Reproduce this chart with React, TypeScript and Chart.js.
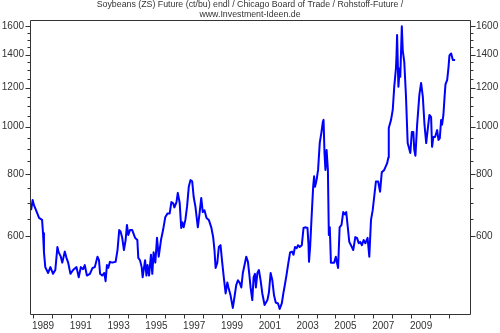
import React, { useEffect, useRef } from "react";
import { Chart, registerables } from "chart.js";

Chart.register(...registerables);

const titleLines = [
  "Soybeans (ZS) Future (ct/bu) endl / Chicago Board of Trade / Rohstoff-Future /",
  "www.Investment-Ideen.de",
];

const years = [
  1988.9, 1988.98, 1989.05, 1989.16, 1989.32, 1989.48, 1989.53, 1989.58, 1989.65, 1989.8, 1989.92,
  1990.06, 1990.18, 1990.29, 1990.36, 1990.47, 1990.55, 1990.68, 1990.77, 1990.86, 1990.98,
  1991.12, 1991.3, 1991.42, 1991.53, 1991.65, 1991.74, 1991.85,
  1992.01, 1992.15, 1992.27, 1992.41, 1992.49, 1992.55, 1992.66, 1992.77, 1992.84, 1992.91, 1992.98,
  1993.07, 1993.19, 1993.37, 1993.47, 1993.56, 1993.63, 1993.72, 1993.81, 1993.9, 1993.97,
  1994.04, 1994.13, 1994.25, 1994.4, 1994.52, 1994.57, 1994.66, 1994.75, 1994.8, 1994.93,
  1995.0, 1995.06, 1995.14, 1995.24, 1995.31, 1995.38, 1995.47, 1995.56, 1995.65, 1995.77, 1995.88,
  1996.0, 1996.12, 1996.23, 1996.32, 1996.41, 1996.48, 1996.59, 1996.66, 1996.76, 1996.84, 1996.9, 1996.97,
  1997.06, 1997.15, 1997.24, 1997.33, 1997.42, 1997.5, 1997.59, 1997.72, 1997.81, 1997.9, 1997.98,
  1998.07, 1998.18, 1998.3, 1998.43, 1998.53, 1998.6, 1998.66, 1998.75, 1998.83, 1998.92,
  1999.01, 1999.1, 1999.19, 1999.28, 1999.34, 1999.45, 1999.57, 1999.66, 1999.75, 1999.84, 1999.93,
  2000.02, 2000.1, 2000.19, 2000.28, 2000.37, 2000.44, 2000.51, 2000.6, 2000.67, 2000.74, 2000.79, 2000.87, 2000.95,
  2001.04, 2001.13, 2001.25, 2001.4, 2001.48, 2001.57, 2001.66, 2001.75, 2001.84, 2001.96,
  2002.05, 2002.16, 2002.25, 2002.32, 2002.42, 2002.51, 2002.6, 2002.7, 2002.78, 2002.86, 2002.95,
  2003.02, 2003.11, 2003.22, 2003.31, 2003.43, 2003.52, 2003.57, 2003.6, 2003.66, 2003.73, 2003.82, 2003.87, 2003.92,
  2004.0, 2004.08, 2004.17, 2004.26, 2004.33, 2004.37, 2004.42, 2004.47, 2004.53, 2004.6, 2004.65, 2004.7, 2004.76, 2004.85, 2004.93,
  2005.02, 2005.07, 2005.14, 2005.22, 2005.32, 2005.41, 2005.5, 2005.57, 2005.64, 2005.73, 2005.82, 2005.94,
  2006.05, 2006.14, 2006.23, 2006.31, 2006.4, 2006.49, 2006.58, 2006.7, 2006.79, 2006.88, 2006.97,
  2007.14, 2007.26, 2007.36, 2007.45, 2007.58, 2007.73, 2007.8, 2007.82, 2007.94,
  2008.03, 2008.11, 2008.2, 2008.23, 2008.26, 2008.33, 2008.4, 2008.43, 2008.51, 2008.56, 2008.64, 2008.73, 2008.82, 2008.96,
  2009.04, 2009.12, 2009.17, 2009.23, 2009.32, 2009.44, 2009.53, 2009.62, 2009.71, 2009.8, 2009.89, 2009.97,
  2010.06, 2010.11, 2010.18, 2010.27, 2010.38, 2010.45, 2010.52, 2010.59, 2010.64, 2010.71, 2010.77, 2010.82, 2010.91, 2010.98,
  2011.03, 2011.12, 2011.21, 2011.33,
];

const prices = [
  677, 710, 693, 677, 653, 647, 608, 556, 519, 505, 519,
  503, 512, 570, 556, 545, 530, 558, 542, 530, 503,
  512, 519, 495, 519, 514, 524, 499,
  503, 517, 519, 545, 536, 503, 499, 505, 486, 524, 517,
  532, 530, 532, 562, 617, 613, 595, 562, 589, 632,
  603, 617, 617, 595, 589, 542, 536, 519, 495, 536,
  499, 524, 499, 550, 503, 556, 530, 595, 545, 589, 617,
  656, 667, 667, 703, 700, 686, 703, 734, 700, 623, 640, 625,
  647, 689, 755, 779, 775, 720, 689, 625, 667, 717, 671,
  677, 653, 647, 625, 597, 562, 517, 530, 570, 575,
  530, 492, 459, 483, 472, 455, 429, 452, 477, 488, 483,
  472, 505, 524, 545, 532, 503, 472, 445, 495, 503, 472, 505, 512,
  488, 459, 435, 445, 461, 505, 488, 455, 440, 438,
  427, 438, 461, 477, 503, 530, 556, 558, 550, 570, 567,
  575, 570, 575, 623, 625, 623, 580, 532, 570, 647, 755, 793, 755,
  779, 817, 928, 975, 1021, 1032, 884, 817, 897, 817, 603, 625, 530, 530, 530,
  545, 532, 517, 625, 632, 671, 664, 671, 632, 584, 575, 562,
  597, 595, 580, 584, 575, 589, 580, 595, 545, 647, 677,
  774, 774, 738, 808, 817, 842, 866, 994, 1032,
  1081, 1205, 1313, 1395, 1533, 1205, 1313, 1262, 1597, 1426, 1353, 1152, 926, 884,
  975, 975, 897, 873, 1009, 1161, 1226, 1152, 1009, 926, 994, 1056,
  1045, 910, 953, 953, 984, 940, 948, 1032, 1009, 1056, 1146, 1218, 1244, 1319,
  1395, 1407, 1365, 1365,
];

const yearTicks = [1989, 1990, 1991, 1992, 1993, 1994, 1995, 1996, 1997, 1998, 1999, 2000,
  2001, 2002, 2003, 2004, 2005, 2006, 2007, 2008, 2009, 2010, 2011];
const yearLabels = [1989, 1991, 1993, 1995, 1997, 1999, 2001, 2003, 2005, 2007, 2009];
const priceLabels = [600, 800, 1000, 1200, 1400, 1600];
const priceMinorTicks = [650, 700, 750, 850, 900, 950, 1050, 1100, 1150, 1250, 1300, 1350, 1450, 1500, 1550];

const X_MIN = 1988.894;
const X_MAX = 2012.17;
const Y_MIN = 417;
const Y_MAX = 1645;

const FONT = "'Liberation Sans', Arial, sans-serif";
const TEXT = "#333333";
const FRAME = "#333333";

const framePlugin = {
  id: "frameTicks",
  afterDraw(chart: any) {
    const { ctx, chartArea } = chart;
    const { left, right, top, bottom } = chartArea;
    ctx.save();
    ctx.strokeStyle = FRAME;
    ctx.lineWidth = 1;
    ctx.beginPath();
    ctx.rect(Math.round(left) - 0.5, Math.round(top) + 0.5, Math.round(right - left), Math.round(bottom - top));
    ctx.stroke();
    const ys = chart.scales.y;
    ctx.beginPath();
    const drawY = (v: number, len: number) => {
      const py = Math.round(ys.getPixelForValue(v)) + 0.5;
      ctx.moveTo(Math.round(left) - 0.5 - len, py);
      ctx.lineTo(Math.round(left) - 0.5, py);
      ctx.moveTo(Math.round(left) - 0.5 + Math.round(right - left), py);
      ctx.lineTo(Math.round(left) - 0.5 + Math.round(right - left) + len, py);
    };
    priceLabels.forEach((v) => drawY(v, 5));
    priceMinorTicks.forEach((v) => drawY(v, 3));
    const xs = chart.scales.x;
    yearTicks.forEach((yr) => {
      const px = Math.round(xs.getPixelForValue(yr)) + 0.5;
      ctx.moveTo(px, Math.round(bottom) + 0.5);
      ctx.lineTo(px, Math.round(bottom) + 4.5);
    });
    ctx.stroke();
    ctx.restore();
  },
};

export default function App() {
  const ref = useRef<HTMLCanvasElement | null>(null);
  useEffect(() => {
    document.body.style.margin = "0";
    const canvas = ref.current;
    if (!canvas) return;
    const data = years.map((x, i) => ({ x, y: prices[i] }));
    const yTickOpts = (padding: number) => ({
      autoSkip: false,
      padding,
      color: TEXT,
      font: { family: FONT, size: 10 },
      callback: (v: any) => (priceLabels.includes(Number(v)) ? String(v) : ""),
    });
    const chart = new Chart(canvas, {
      type: "line",
      data: {
        datasets: [
          {
            data,
            borderColor: "#0000ff",
            borderWidth: 2,
            pointRadius: 0,
            tension: 0,
            borderJoinStyle: "round",
            fill: false,
          },
        ],
      },
      options: {
        animation: false,
        responsive: false,
        devicePixelRatio: 1,
        layout: { padding: 0 },
        plugins: {
          legend: { display: false },
          tooltip: { enabled: false },
          title: {
            display: true,
            text: titleLines,
            color: TEXT,
            font: { family: FONT, size: 8.8, weight: "normal", lineHeight: "10px" },
            padding: { top: 0, bottom: 0 },
          },
        },
        scales: {
          x: {
            type: "linear",
            min: X_MIN,
            max: X_MAX,
            grid: { display: false, drawTicks: false },
            border: { display: false },
            afterBuildTicks: (s: any) => {
              s.ticks = yearTicks.map((v) => ({ value: v }));
            },
            afterFit: (s: any) => {
              s.height = 19;
            },
            ticks: {
              autoSkip: false,
              maxRotation: 0,
              padding: 6,
              labelOffset: 10,
              color: TEXT,
              font: { family: FONT, size: 10 },
              callback: (v: any) => (yearLabels.includes(Number(v)) ? String(v) : ""),
            },
          },
          y: {
            type: "logarithmic",
            position: "left",
            min: Y_MIN,
            max: Y_MAX,
            grid: { display: false, drawTicks: false },
            border: { display: false },
            afterBuildTicks: (s: any) => {
              s.ticks = [...priceLabels, ...priceMinorTicks].sort((a, b) => a - b).map((v) => ({ value: v }));
            },
            afterFit: (s: any) => {
              s.width = 31;
            },
            ticks: yTickOpts(7),
          },
          y2: {
            type: "logarithmic",
            position: "right",
            min: Y_MIN,
            max: Y_MAX,
            grid: { display: false, drawTicks: false },
            border: { display: false },
            afterBuildTicks: (s: any) => {
              s.ticks = [...priceLabels, ...priceMinorTicks].sort((a, b) => a - b).map((v) => ({ value: v }));
            },
            afterFit: (s: any) => {
              s.width = 29;
            },
            ticks: yTickOpts(5),
          },
        },
      },
      plugins: [framePlugin],
    } as any);
    return () => chart.destroy();
  }, []);
  return (
    <div style={{ position: "absolute", left: 0, top: 0, width: 500, height: 333, background: "#ffffff" }}>
      <canvas ref={ref} width={500} height={333} style={{ display: "block" }} />
    </div>
  );
}
